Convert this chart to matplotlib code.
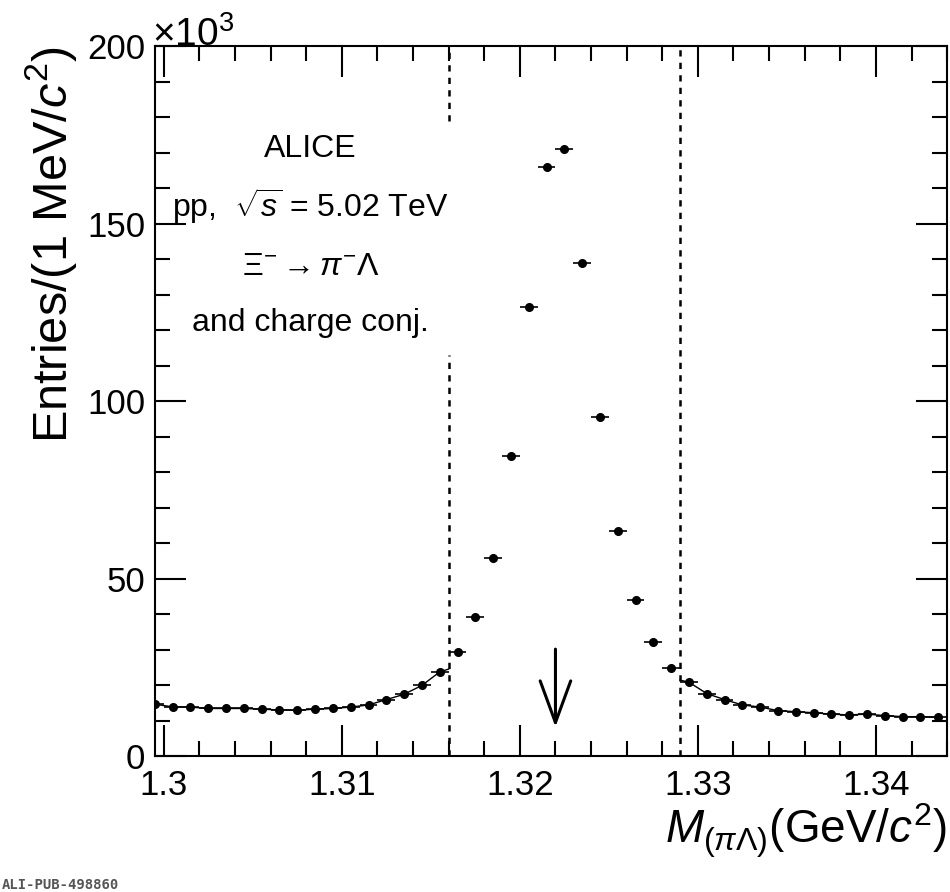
import numpy as np
import matplotlib
matplotlib.use("Agg")
import matplotlib.pyplot as plt
from matplotlib.ticker import MultipleLocator

plt.rcParams["font.family"] = ["Liberation Sans", "DejaVu Sans"]
plt.rcParams["mathtext.fontset"] = "custom"
plt.rcParams["mathtext.rm"] = "Liberation Sans"
plt.rcParams["mathtext.it"] = "Liberation Sans:italic"

# bin centres (GeV/c^2), 1 MeV bins
mass = np.round(np.arange(1.2995, 1.3436, 0.001), 4)
# entries in units of 10^3
entries = [14.7, 13.96, 13.9, 13.5, 13.5, 13.5, 13.3, 13.1, 13.0, 13.3,
           13.5, 13.9, 14.5, 16.0, 17.5, 20.0, 23.8, 29.5, 39.2,
           56.0, 84.5, 126.5, 166.0, 171.0, 139.0, 95.5, 63.5, 44.0,
           32.2, 25.0,
           20.9, 17.7, 16.0, 14.5, 13.9, 12.9, 12.6, 12.3, 11.9, 11.7,
           11.9, 11.5, 11.2, 11.2, 11.0]
entries = np.array(entries)
cut_lo, cut_hi = 1.316, 1.329
pdg_mass = 1.322

fig = plt.figure(figsize=(9.5, 8.92), dpi=100)
ax = fig.add_axes([0.163, 0.152, 0.834, 0.796])

# background fit curve (sidebands)
lo = mass < cut_lo
hi = mass > cut_hi
ax.plot(np.r_[mass[lo], cut_lo], np.r_[entries[lo], 24.6], color="k", lw=1)
ax.plot(np.r_[cut_hi, mass[hi]], np.r_[21.5, entries[hi]], color="k", lw=1)

ax.errorbar(mass, entries, xerr=0.0005, fmt="o", color="k", ms=5.5,
            elinewidth=1.2, capsize=0)

ax.plot([cut_lo, cut_lo], [0, 113], color="k", ls=(0, (2.5, 2.5)), lw=1.8)
ax.plot([cut_lo, cut_lo], [179, 200], color="k", ls=(0, (2.5, 2.5)), lw=1.8)
ax.axvline(cut_hi, color="k", ls=(0, (2.5, 2.5)), lw=1.8)

ax.annotate("", xy=(pdg_mass, 7.5), xytext=(pdg_mass, 31),
            arrowprops=dict(arrowstyle="->,head_length=3.0,head_width=1.1",
                            color="k", lw=2.2))

ax.set_xlim(1.2995, 1.344)
ax.set_ylim(0, 200)
ax.xaxis.set_major_locator(MultipleLocator(0.01))
ax.xaxis.set_minor_locator(MultipleLocator(0.002))
ax.yaxis.set_major_locator(MultipleLocator(50))
ax.yaxis.set_minor_locator(MultipleLocator(10))
ax.set_xticks([1.3, 1.31, 1.32, 1.33, 1.34])
ax.set_xticklabels(["1.3", "1.31", "1.32", "1.33", "1.34"])
ax.tick_params(which="both", direction="in", top=True, right=True,
               labelsize=25, width=1.5, pad=9)
ax.tick_params(axis="y", pad=7)
ax.tick_params(which="major", length=22)
ax.tick_params(which="minor", length=11)
for s in ax.spines.values():
    s.set_linewidth(1.5)

ax.set_ylabel(r"Entries/(1 MeV/$c^2$)", fontsize=35, loc="top", labelpad=6)
ax.set_xlabel(r"$M_{(\pi\Lambda)}$(GeV/$c^2$)", fontsize=33, loc="right",
              labelpad=0)
ax.text(-0.003, 0.99, r"$\times 10^3$", transform=ax.transAxes, fontsize=28,
        va="bottom", ha="left")

ax.text(1.30825, 171, "ALICE", fontsize=23, ha="center", va="center")
ax.text(1.30825, 155, r"pp,  $\sqrt{s}$ = 5.02 TeV", fontsize=23,
        ha="center", va="center")
ax.text(1.30825, 138, r"$\Xi^{-}\rightarrow\pi^{-}\Lambda$", fontsize=23,
        ha="center", va="center", family="DejaVu Serif")
ax.text(1.30825, 122, "and charge conj.", fontsize=23, ha="center",
        va="center")

fig.text(0.002, 0.003, "ALI-PUB-498860", family="DejaVu Sans Mono",
         fontsize=10, color="#555555", weight="bold")

fig.savefig("out.png", dpi=100)
